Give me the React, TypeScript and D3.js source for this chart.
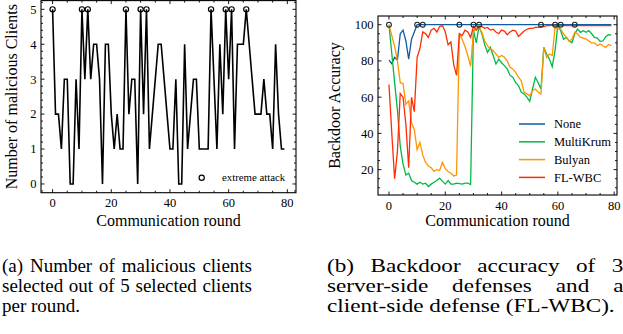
import * as d3 from 'd3'

const ROUNDS = d3.range(80)

const MALICIOUS = [
  5, 2, 2, 1, 3, 3, 0, 0, 3, 1,
  5, 3, 5, 3, 4, 4, 3, 0, 4, 4,
  2, 1, 2, 1, 1, 5, 2, 3, 3, 0,
  5, 2, 5, 1, 2, 3, 4, 4, 3, 2,
  1, 1, 3, 0, 0, 4, 1, 2, 3, 3,
  1, 1, 1, 1, 5, 3, 1, 4, 2, 5,
  3, 5, 1, 4, 4, 4, 5, 4, 3, 2,
  2, 2, 3, 2, 2, 1, 4, 2, 1, 1,
]

const EXTREME_ROUNDS = [0, 10, 12, 25, 30, 32, 54, 59, 61, 66]

const ACC_NONE = [
  80.5, 78.5, 82, 80.5, 95, 97, 91, 81, 92, 96,
  100, 100, 100, 100, 100, 100, 100, 100, 100, 100,
  100, 100, 100, 100, 100, 100, 100, 100, 100, 100,
  100, 100, 100, 100, 100, 100, 100, 100, 100, 100,
  100, 100, 100, 100, 100, 100, 100, 100, 100, 100,
  100, 100, 100, 100, 100, 100, 100, 100, 100, 100,
  100, 100, 100, 100, 100, 100, 100, 100, 100, 100,
  100, 100, 100, 100, 100, 100, 100, 100, 100, 100,
]

const ACC_MULTIKRUM = [
  100, 84, 68, 53, 33, 23, 17, 18, 14, 13,
  12, 13, 12, 12.5, 10.7, 12, 13, 14, 15.3, 13.5,
  12, 14, 12, 12, 12.5, 12.3, 12, 12.5, 12.5, 11.8,
  97, 90, 99, 95, 89, 84.7, 87.5, 83, 78.3, 81,
  79, 77.4, 75.6, 72, 71, 68, 66.4, 62.7, 61.8, 60,
  57.7, 64.5, 71, 68, 64.5, 87.5, 83.8, 81, 76.8, 85.7,
  100, 96.7, 92, 93, 91, 90, 95, 97.6, 95.8, 96.7,
  95.8, 96.7, 95, 93, 92.6, 90.8, 91, 93.4, 94.5, 94.3,
]

const ACC_BULYAN = [
  100, 94, 88, 80, 68, 67.5, 56, 58, 46, 42,
  31, 35, 28, 24, 22, 21, 19, 20, 19.5, 24,
  20.5, 19, 18, 16.5, 17, 95, 92, 88, 83, 77,
  96, 98.5, 98.5, 95.8, 91, 88.4, 86.6, 85.7, 83.8, 82,
  83, 82, 80, 76.5, 75.6, 73.7, 71, 69, 62.7, 61.8,
  60.8, 63.6, 64.5, 62.7, 61.8, 87.5, 82, 83.8, 83, 98.5,
  97.6, 97.6, 94.9, 93, 91, 92, 95.8, 94.9, 93, 92.6,
  92, 91, 90, 90, 88.4, 89.4, 88.4, 87.5, 89, 88.4,
]

const ACC_FLWBC = [
  67, 40, 15, 30, 62, 60, 45, 21, 60, 52,
  82, 87, 96, 95, 93, 97, 98, 96, 99, 99.5,
  96, 89, 90.5, 78, 72, 95, 94, 97, 96, 93,
  99, 97, 99, 99, 98, 98.5, 97, 97.5, 96, 95,
  97, 96.5, 94.5, 96, 97, 96.5, 93.5, 95, 96.5, 97.5,
  98, 98, 98.5, 98.5, 99, 99, 99.5, 99.5, 99.8, 99.5,
  99.5, 99.5, 99.5, 99.5, 99.5, 99.5, 99.5, 99.5, 99.5, 99.5,
  99.5, 99.5, 99.5, 99.5, 99.5, 99.5, 99.5, 99.5, 99.5, 99.5,
]

const SERIES_NAMES = ['None', 'MultiKrum', 'Bulyan', 'FL-WBC']
const SERIES_VALUES = [ACC_NONE, ACC_MULTIKRUM, ACC_BULYAN, ACC_FLWBC]
const SERIES_COLORS = ['#0C5DA5', '#00B945', '#FF9500', '#FF2C00']

const X_TICKS = [0, 20, 40, 60, 80]
const Y_TICKS_A = [0, 1, 2, 3, 4, 5]
const Y_TICKS_B = [20, 40, 60, 80, 100]

const CAPTION_A = ['(a) Number of malicious clients', 'selected out of 5 selected clients', 'per round.']
const CAPTION_B = ['(b) Backdoor accuracy of 3', 'server-side defenses and a', 'client-side defense (FL-WBC).']

const FONT = 'Liberation Serif'
const TICK_SIZE = 12.5
const LABEL_SIZE = 16
const CAP_SIZE = 19
const MAJ = 3.5
const MIN = 2

let measureCtx: CanvasRenderingContext2D | null = null
function textWidth(s: string, size: number) {
  if (!measureCtx) measureCtx = document.createElement('canvas').getContext('2d')
  measureCtx!.font = `${size}px "${FONT}"`
  return measureCtx!.measureText(s).width
}

// word positions for a justified caption line
function justify(line: string, x0: number, x1: number) {
  const words = line.split(' ')
  const widths = words.map((w) => textWidth(w, CAP_SIZE))
  const gap = (x1 - x0 - d3.sum(widths)) / (words.length - 1)
  let x = x0
  return words.map((w, i) => {
    const p = x
    x += widths[i] + gap
    return { w, x: p }
  })
}

type Lin = d3.ScaleLinear<number, number>

function Axes({ x, y, yTicks, yMinorStep }: { x: Lin; y: Lin; yTicks: number[]; yMinorStep: number }) {
  const [x0, x1] = x.range()
  const [y0, y1] = y.range()
  const [dx0, dx1] = x.domain()
  const [dy0, dy1] = y.domain()
  const xMinor = d3.range(Math.ceil(dx0 / 5) * 5, dx1, 5).filter((t) => !X_TICKS.includes(t))
  const yMinor = d3
    .range(Math.ceil(dy0 / yMinorStep) * yMinorStep, dy1, yMinorStep)
    .filter((t) => !yTicks.some((m) => Math.abs(m - t) < 1e-6))
  return (
    <g stroke="#000" strokeWidth={0.9}>
      <rect x={x0} y={y1} width={x1 - x0} height={y0 - y1} fill="none" strokeWidth={1.1} />
      {X_TICKS.map((t) => (
        <g key={'x' + t}>
          <line x1={x(t)} x2={x(t)} y1={y0} y2={y0 - MAJ} />
          <line x1={x(t)} x2={x(t)} y1={y1} y2={y1 + MAJ} />
          <text x={x(t)} y={y0 + 14.5} textAnchor="middle" stroke="none" fill="#000" fontSize={TICK_SIZE}>
            {t}
          </text>
        </g>
      ))}
      {xMinor.map((t) => (
        <g key={'xm' + t}>
          <line x1={x(t)} x2={x(t)} y1={y0} y2={y0 - MIN} />
          <line x1={x(t)} x2={x(t)} y1={y1} y2={y1 + MIN} />
        </g>
      ))}
      {yTicks.map((t) => (
        <g key={'y' + t}>
          <line x1={x0} x2={x0 + MAJ} y1={y(t)} y2={y(t)} />
          <line x1={x1} x2={x1 - MAJ} y1={y(t)} y2={y(t)} />
          <text x={x0 - 4.5} y={y(t)} dy="0.35em" textAnchor="end" stroke="none" fill="#000" fontSize={TICK_SIZE}>
            {t}
          </text>
        </g>
      ))}
      {yMinor.map((t) => (
        <g key={'ym' + t}>
          <line x1={x0} x2={x0 + MIN} y1={y(t)} y2={y(t)} />
          <line x1={x1} x2={x1 - MIN} y1={y(t)} y2={y(t)} />
        </g>
      ))}
    </g>
  )
}

// caption block; sx widens the glyphs horizontally, x1 is the local right edge
function Caption({ lines, x0, x1, y0, sx }: { lines: string[]; x0: number; x1: number; y0: number; sx: number }) {
  return (
    <g fontSize={CAP_SIZE} transform={`translate(${x0},0) scale(${sx},1)`}>
      {lines.map((line, i) =>
        i < lines.length - 1 ? (
          justify(line, 0, x1).map((p, j) => (
            <text key={i + '-' + j} x={p.x} y={y0 + i * 20}>
              {p.w}
            </text>
          ))
        ) : (
          <text key={i} x={0} y={y0 + i * 20}>
            {line}
          </text>
        ),
      )}
    </g>
  )
}

export default function App() {
  const xA = d3.scaleLinear().domain([-3.95, 82.95]).range([41, 296])
  const yA = d3.scaleLinear().domain([-0.25, 5.25]).range([192.7, 0.6])
  const xB = d3.scaleLinear().domain([-3.9, 81]).range([378, 617])
  const yB = d3.scaleLinear().domain([6, 104.8]).range([195, 16])

  const lineA = d3
    .line<number>()
    .x((_, i) => xA(ROUNDS[i]))
    .y((v) => yA(v))
  const lineB = d3
    .line<number>()
    .x((_, i) => xB(ROUNDS[i]))
    .y((v) => yB(v))

  return (
    <svg
      width={623}
      height={334}
      style={{ position: 'absolute', left: 0, top: 0, background: '#fff', fontFamily: `"${FONT}", "Times New Roman", serif` }}
    >
      {/* (a) malicious clients per round */}
      <path d={lineA(MALICIOUS)!} fill="none" stroke="#000" strokeWidth={1.6} strokeLinejoin="miter" />
      {EXTREME_ROUNDS.map((r) => (
        <circle key={r} cx={xA(r)} cy={yA(MALICIOUS[r])} r={2.6} fill="none" stroke="#000" strokeWidth={1.2} />
      ))}
      <Axes x={xA} y={yA} yTicks={Y_TICKS_A} yMinorStep={0.2} />
      <circle cx={201.7} cy={177.7} r={2.6} fill="none" stroke="#000" strokeWidth={1.2} />
      <text x={222} y={177.7} dy="0.35em" fontSize={10.8}>
        extreme attack
      </text>
      <text x={(xA.range()[0] + xA.range()[1]) / 2} y={226} textAnchor="middle" fontSize={LABEL_SIZE}>
        Communication round
      </text>
      <text
        transform={`translate(16.5,${(yA.range()[0] + yA.range()[1]) / 2}) rotate(-90)`}
        textAnchor="middle"
        fontSize={LABEL_SIZE}
      >
        Number of malicious Clients
      </text>

      {/* (b) backdoor accuracy */}
      {SERIES_VALUES.map((vals, k) => (
        <path key={k} d={lineB(vals)!} fill="none" stroke={SERIES_COLORS[k]} strokeWidth={1.3} />
      ))}
      {EXTREME_ROUNDS.map((r) => (
        <circle key={r} cx={xB(r)} cy={yB(100)} r={2.4} fill="none" stroke="#222" strokeWidth={1.1} />
      ))}
      <Axes x={xB} y={yB} yTicks={Y_TICKS_B} yMinorStep={5} />
      {SERIES_NAMES.map((name, k) => (
        <g key={name} transform={`translate(519,${124 + k * 17.8})`}>
          <line x1={0} x2={26} stroke={SERIES_COLORS[k]} strokeWidth={1.5} />
          <text x={35} dy="0.35em" fontSize={TICK_SIZE}>
            {name}
          </text>
        </g>
      ))}
      <text x={(xB.range()[0] + xB.range()[1]) / 2} y={226} textAnchor="middle" fontSize={LABEL_SIZE}>
        Communication round
      </text>
      <text
        transform={`translate(340,${(yB.range()[0] + yB.range()[1]) / 2}) rotate(-90)`}
        textAnchor="middle"
        fontSize={LABEL_SIZE}
      >
        Backdoor Accuracy
      </text>

      <Caption lines={CAPTION_A} x0={2} x1={250} y0={272} sx={1} />
      <Caption lines={CAPTION_B} x0={327} x1={243} y0={272} sx={1.22} />
    </svg>
  )
}
